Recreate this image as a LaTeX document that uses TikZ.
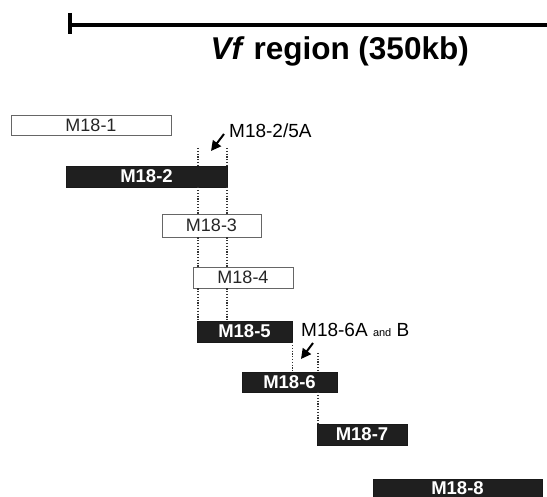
\documentclass[tikz,border=0pt]{standalone}
\usepackage{fontspec}
\setmainfont{Liberation Sans}
\usetikzlibrary{arrows.meta}
\tikzset{
  openbox/.style={draw=black!60, line width=0.7pt, fill=white, rectangle, inner sep=0pt,
    font=\fontsize{18}{18}\selectfont, text=black!85},
  darkbox/.style={draw=black!90, fill=black!88, rectangle, inner sep=0pt,
    font=\fontsize{18.5}{18}\selectfont\bfseries, text=white},
  dotline/.style={black!80, line width=1.2pt, dash pattern=on 1.2pt off 1.6pt},
  pointer/.style={line width=2pt, -{Triangle[length=10pt,width=10pt]}},
  lbl/.style={inner sep=0pt, font=\fontsize{19}{19}\selectfont}
}
\begin{document}
\begin{tikzpicture}[x=1pt,y=-1pt]
\useasboundingbox (0,0) rectangle (547,497);
% scale bar
\coordinate (barL) at (70,25);
\coordinate (barR) at (547,25);
\coordinate (tickT) at (70,13);
\coordinate (tickB) at (70,34);
\draw[line width=3.5pt] (barL) -- (barR);
\draw[line width=4.5pt] (tickT) -- (tickB);
\node[inner sep=0pt, anchor=base east, font=\fontsize{31.5}{31.5}\selectfont\bfseries] (title) at (469,60) {\textit{Vf} region (350kb)};

% dotted guide line starting points
\coordinate (dA) at (198,148);
\coordinate (dB) at (227,148);
\coordinate (dC) at (318,353);

% boxes
\node[openbox, minimum width=160pt, minimum height=20pt] (m1) at (91,125.5) {M18-1};
\node[darkbox, minimum width=161pt, minimum height=21pt] (m2) at (146.5,176.5) {M18-2};
\node[openbox, minimum width=99pt, minimum height=23pt] (m3) at (211.5,225.5) {M18-3};
\node[openbox, minimum width=100pt, minimum height=21pt] (m4) at (243,277.5) {M18-4};
\node[darkbox, minimum width=95pt, minimum height=21pt] (m5) at (244.5,331.5) {M18-5};
\node[darkbox, minimum width=95pt, minimum height=20pt] (m6) at (289.5,382) {M18-6};
\node[darkbox, minimum width=90pt, minimum height=21pt] (m7) at (362,434.5) {M18-7};
\node[darkbox, minimum width=169pt, minimum height=18pt] (m8) at (457.5,488) {M18-8};

% guide lines: segments between boxes
\draw[dotline] (dA) -- (dA |- m2.north);
\draw[dotline] (dB) -- (dB |- m2.north);
\draw[dotline] (dA |- m2.south) -- (dA |- m3.north);
\draw[dotline] (dB |- m2.south) -- (dB |- m3.north);
\draw[dotline] (dA |- m3.south) -- (dA |- m4.north);
\draw[dotline] (dB |- m3.south) -- (dB |- m4.north);
\draw[dotline] (dA |- m4.south) -- (dA |- m5.north);
\draw[dotline] (dB |- m4.south) -- (dB |- m5.north);
\draw[dotline] (m5.south east) -- (m5.south east |- m6.north);
\draw[dotline] (dC) -- (dC |- m6.north);
\draw[dotline] (dC |- m6.south) -- (dC |- m7.north);

% labels and arrows
\node[lbl, anchor=base west] (l25) at (229,138) {M18-2/5A};
\coordinate (a1s) at (224,134);
\coordinate (a1e) at (211,151);
\draw[pointer] (a1s) -- (a1e);
\node[lbl, anchor=base west] (l6) at (301,337) {M18-6A {\fontsize{11}{11}\selectfont and} B};
\coordinate (a2s) at (313,343);
\coordinate (a2e) at (301,359);
\draw[pointer] (a2s) -- (a2e);
\end{tikzpicture}
\end{document}
